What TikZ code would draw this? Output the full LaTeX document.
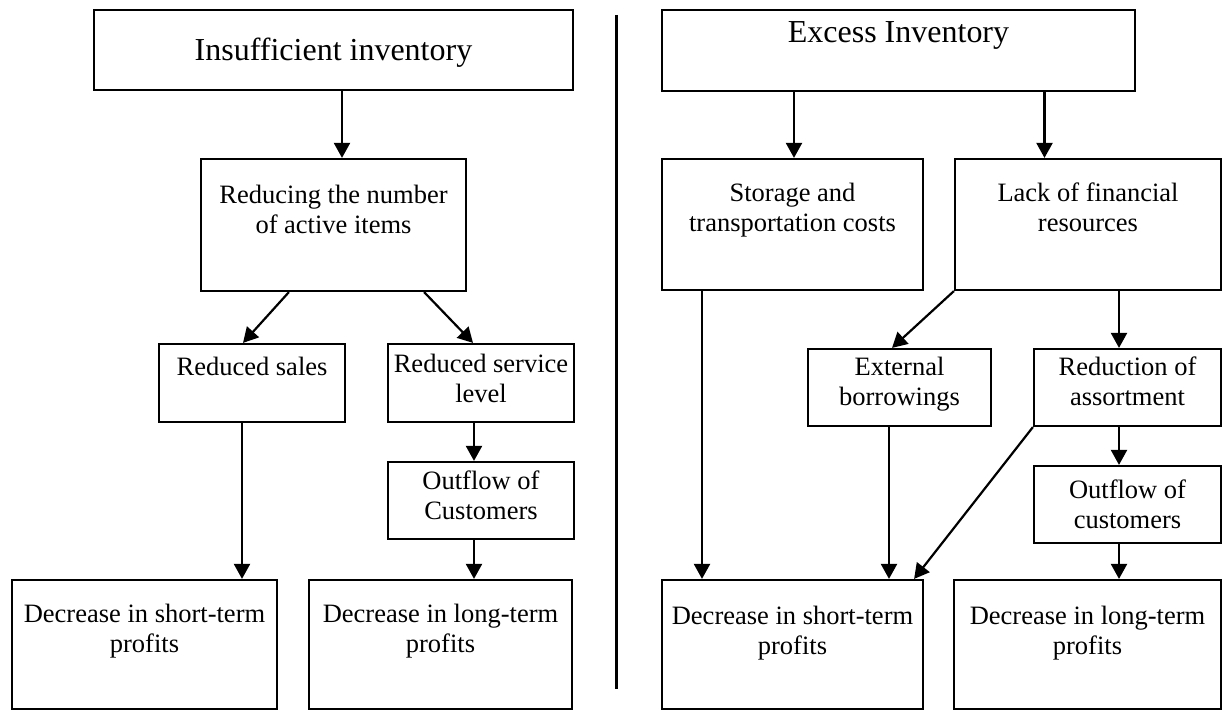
\documentclass[tikz,border=0pt]{standalone}
\usepackage{fontspec}
\setmainfont{Liberation Serif}
\usetikzlibrary{arrows.meta}
\begin{document}
\begin{tikzpicture}[x=1pt,y=-1pt]
\tikzset{
  box/.style={draw, line width=2.2pt, inner sep=0pt, rectangle},
  txt/.style={font=\fontsize{26.5}{30}\selectfont, align=center, inner sep=0pt, anchor=north},
  one/.style={font=\fontsize{26.5}{30}\selectfont, inner sep=0pt, anchor=base},
  ttl/.style={font=\fontsize{32}{36}\selectfont, inner sep=0pt, anchor=base},
  arr/.style={line width=2.2pt, -{Triangle[length=15pt,width=16pt]}},
  sep/.style={line width=3pt},
}
\useasboundingbox (0,0) rectangle (1229,711);

% ---------- left half ----------
\node[box, minimum width=479pt, minimum height=80pt] (ins) at (333.5,50) {};
\node[ttl] (ins-t) at ([yshift=-52pt]ins.north) {Insufficient inventory};

\node[box, minimum width=265pt, minimum height=132pt] (red) at (333.5,225) {};
\node[txt] (red-t) at ([yshift=-27.2pt]red.north) {Reducing the number\\of active items};

\node[box, minimum width=186pt, minimum height=78pt] (sales) at (252,383) {};
\node[one] (sales-t) at ([yshift=-33pt]sales.north) {Reduced sales};

\node[box, minimum width=186pt, minimum height=78pt] (serv) at (481,383) {};
\node[txt] (serv-t) at ([yshift=-11.2pt]serv.north) {Reduced service\\level};

\node[box, minimum width=186pt, minimum height=77pt] (out1) at (481,500.5) {};
\node[txt] (out1-t) at ([yshift=-10.2pt]out1.north) {Outflow of\\Customers};

\node[box, minimum width=265pt, minimum height=129pt] (st1) at (144.5,644.5) {};
\node[txt] (st1-t) at ([yshift=-25.2pt]st1.north) {Decrease in short-term\\profits};

\node[box, minimum width=263pt, minimum height=129pt] (lt1) at (440.5,644.5) {};
\node[txt] (lt1-t) at ([yshift=-25.2pt]lt1.north) {Decrease in long-term\\profits};

\draw[arr] ([xshift=8.5pt]ins.south) -- ([xshift=8.5pt]ins.south |- red.north);
\draw[arr] ([xshift=89pt]red.south west) -- ([xshift=-9pt]sales.north);
\draw[arr] ([xshift=-43pt]red.south east) -- ([xshift=-8pt]serv.north);
\draw[arr] ([xshift=-10pt]sales.south) -- ([xshift=-10pt]sales.south |- st1.north);
\draw[arr] ([xshift=-7pt]serv.south) -- ([xshift=-7pt]out1.north);
\draw[arr] ([xshift=-7pt]out1.south) -- ([xshift=-7pt]out1.south |- lt1.north);

% ---------- separator ----------
\coordinate (septop) at (616,15);
\coordinate (sepbot) at (616,689);
\draw[sep] (septop) -- (sepbot);

% ---------- right half ----------
\node[box, minimum width=473pt, minimum height=81pt] (exc) at (898.5,50.5) {};
\node[ttl] (exc-t) at ([yshift=-34pt]exc.north) {Excess Inventory};

\node[box, minimum width=261pt, minimum height=131pt] (stor) at (792.5,224.5) {};
\node[txt] (stor-t) at ([yshift=-25.2pt]stor.north) {Storage and\\transportation costs};

\node[box, minimum width=266pt, minimum height=131pt] (lack) at (1088,224.5) {};
\node[txt] (lack-t) at ([yshift=-25.2pt]lack.north) {Lack of financial\\resources};

\node[box, minimum width=183pt, minimum height=77pt] (ext) at (899.5,387.5) {};
\node[txt] (ext-t) at ([yshift=-9.2pt]ext.north) {External\\borrowings};

\node[box, minimum width=187pt, minimum height=77pt] (redas) at (1127.5,387.5) {};
\node[txt] (redas-t) at ([yshift=-9.2pt]redas.north) {Reduction of\\assortment};

\node[box, minimum width=187pt, minimum height=77pt] (out2) at (1127.5,504.5) {};
\node[txt] (out2-t) at ([yshift=-15.2pt]out2.north) {Outflow of\\customers};

\node[box, minimum width=261pt, minimum height=129pt] (st2) at (792.5,644.5) {};
\node[txt] (st2-t) at ([yshift=-27.2pt]st2.north) {Decrease in short-term\\profits};

\node[box, minimum width=267pt, minimum height=129pt] (lt2) at (1087.5,644.5) {};
\node[txt] (lt2-t) at ([yshift=-27.2pt]lt2.north) {Decrease in long-term\\profits};

\draw[arr] ([xshift=1.5pt]stor.north |- exc.south) -- ([xshift=1.5pt]stor.north);
\draw[arr] ([xshift=-43.5pt]lack.north |- exc.south) -- ([xshift=-43.5pt]lack.north);
\draw[arr] (lack.south west) -- ([xshift=-7.5pt]ext.north);
\draw[arr] ([xshift=-8.5pt]redas.north |- lack.south) -- ([xshift=-8.5pt]redas.north);
\draw[arr] ([xshift=-90.5pt]stor.south) -- ([xshift=-90.5pt]stor.south |- st2.north);
\draw[arr] ([xshift=-10.5pt]ext.south) -- ([xshift=-10.5pt]ext.south |- st2.north);
\draw[arr] (redas.south west) -- ([xshift=-10pt]st2.north east);
\draw[arr] ([xshift=-8.5pt]redas.south) -- ([xshift=-8.5pt]out2.north);
\draw[arr] ([xshift=-8.5pt]out2.south) -- ([xshift=-8.5pt]out2.south |- lt2.north);
\end{tikzpicture}
\end{document}
